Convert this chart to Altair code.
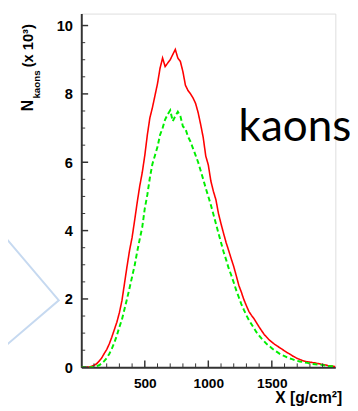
import altair as alt
import pandas as pd

# ---- data ----
x_vals = list(range(0, 2001, 20))

red_vals = [
    0, 0, 0, 0.01, 0.03, 0.06, 0.1, 0.18, 0.27, 0.4,
    0.52, 0.68, 0.88, 1.1, 1.32, 1.6, 1.95, 2.45, 2.95, 3.42,
    3.8, 4.3, 4.82, 5.3, 5.7, 6.2, 6.8, 7.3, 7.6, 7.95,
    8.3, 8.75, 9.05, 8.8, 8.9, 9.0, 9.15, 9.3, 9.05, 8.95,
    8.65, 8.25, 8.1, 8.0, 7.88, 7.72, 7.45, 7.1, 6.72, 6.18,
    5.92, 5.45, 5.15, 4.9, 4.5, 4.2, 3.92, 3.65, 3.42, 3.18,
    2.95, 2.68, 2.4, 2.2, 1.98, 1.8, 1.63, 1.52, 1.42, 1.3,
    1.18, 1.07, 0.96, 0.88, 0.8, 0.74, 0.68, 0.63, 0.58, 0.53,
    0.48, 0.43, 0.39, 0.34, 0.3, 0.26, 0.23, 0.2, 0.18, 0.16,
    0.15, 0.14, 0.13, 0.11, 0.1, 0.08, 0.07, 0.05, 0.04, 0.03,
    0.02]

green_vals = [
    0, 0, 0, 0, 0, 0.01, 0.03, 0.06, 0.11, 0.18,
    0.27, 0.39, 0.54, 0.72, 0.93, 1.18, 1.4, 1.7, 2.0, 2.32,
    2.65, 2.98, 3.38, 3.75, 4.1, 4.65, 5.05, 5.55, 5.95, 6.2,
    6.45, 6.8, 7.0, 7.25, 7.4, 7.52, 7.2, 7.35, 7.48, 7.35,
    7.05, 6.98, 6.75, 6.6, 6.4, 6.2, 6.0, 5.75, 5.5, 5.24,
    5.0, 4.75, 4.48, 4.2, 3.92, 3.65, 3.38, 3.15, 2.9, 2.7,
    2.48, 2.25, 2.05, 1.85, 1.68, 1.52, 1.38, 1.26, 1.14, 1.02,
    0.93, 0.84, 0.76, 0.68, 0.62, 0.56, 0.5, 0.45, 0.4, 0.36,
    0.33, 0.29, 0.26, 0.24, 0.21, 0.19, 0.17, 0.16, 0.14, 0.13,
    0.11, 0.1, 0.09, 0.08, 0.08, 0.07, 0.05, 0.04, 0.03, 0.03,
    0.02]

x_label_vals = [500, 1000, 1500]
y_label_vals = [0, 2, 4, 6, 8, 10]
x_minor = [100, 200, 300, 400, 600, 700, 800, 900, 1100, 1200, 1300, 1400, 1600, 1700, 1800, 1900]
y_minor = [0.5, 1, 1.5, 2.5, 3, 3.5, 4.5, 5, 5.5, 6.5, 7, 7.5, 8.5, 9, 9.5]

# decorative light-blue chevron at the left (in data units)
deco_x = [-700, -177, -700]
deco_y = [4.25, 1.96, 0.3]

W, H = 260, 362
XS = alt.Scale(domain=[0, 2000], nice=False, zero=False)
YS = alt.Scale(domain=[0, 10.35], nice=False, zero=False)

df = pd.DataFrame({
    "X": x_vals * 2,
    "N": red_vals + green_vals,
    "s": ["red"] * len(x_vals) + ["green"] * len(x_vals),
})

lines = alt.Chart(df).mark_line(clip=True, interpolate="linear").encode(
    x=alt.X("X:Q", scale=XS, axis=alt.Axis(
        values=x_label_vals, format="d", ticks=False, grid=False, title=None,
        labelFont="Liberation Sans", labelFontWeight="bold", labelFontSize=14,
        labelColor="black", labelPadding=10, domainColor="#333", domainWidth=2)),
    y=alt.Y("N:Q", scale=YS, axis=alt.Axis(
        values=y_label_vals, format="d", ticks=False, grid=False, title=None,
        labelFont="Liberation Sans", labelFontWeight="bold", labelFontSize=15,
        labelColor="black", labelPadding=9, domainColor="#333", domainWidth=2)),
    color=alt.Color("s:N", scale=alt.Scale(domain=["red", "green"], range=["#ff0000", "#00ee00"]), legend=None),
    strokeDash=alt.StrokeDash("s:N", scale=alt.Scale(domain=["red", "green"], range=[[1, 0], [5, 3]]), legend=None),
    strokeWidth=alt.StrokeWidth("s:N", scale=alt.Scale(domain=["red", "green"], range=[1.6, 2.0]), legend=None),
    order="X:Q",
)

deco = alt.Chart(pd.DataFrame({"X": deco_x, "N": deco_y, "o": [0, 1, 2]})).mark_line(
    clip=False, color="#c6d9f0", strokeWidth=2).encode(
    x=alt.X("X:Q", scale=XS), y=alt.Y("N:Q", scale=YS), order="o:Q")

ymaj = alt.Chart(pd.DataFrame({"v": y_label_vals})).mark_rule(color="#333", strokeWidth=1.5).encode(
    y=alt.Y("v:Q", scale=YS), x=alt.value(0), x2=alt.value(7))
ymin = alt.Chart(pd.DataFrame({"v": y_minor})).mark_rule(color="#333", strokeWidth=1).encode(
    y=alt.Y("v:Q", scale=YS), x=alt.value(0), x2=alt.value(4))
xmaj = alt.Chart(pd.DataFrame({"v": x_label_vals})).mark_rule(color="#333", strokeWidth=1.5).encode(
    x=alt.X("v:Q", scale=XS), y=alt.value(H), y2=alt.value(H - 7))
xmin = alt.Chart(pd.DataFrame({"v": x_minor})).mark_rule(color="#333", strokeWidth=1).encode(
    x=alt.X("v:Q", scale=XS), y=alt.value(H), y2=alt.value(H - 4))


def txt(s, x, y, size, angle=0, align="left", weight="bold", font="Liberation Sans"):
    return alt.Chart(pd.DataFrame({"t": [s]})).mark_text(
        text=s, x=x, y=y, fontSize=size, angle=angle, align=align, baseline="alphabetic",
        fontWeight=weight, font=font, color="black")


ytitle_N = txt("N", -49, 100, 16, angle=270)
ytitle_sub = txt("kaons", -42, 87, 10, angle=270)
ytitle_rest = txt("(x 10³)", -49, 55, 15, angle=270)
xtitle = txt("X [g/cm²]", 267, 399, 16, align="right")
kaons = txt("kaons", 161, 130, 45, weight="normal", font="Lato")

chart = alt.layer(deco, lines, ymin, ymaj, xmin, xmaj, ytitle_N, ytitle_sub, ytitle_rest, xtitle, kaons).properties(
    width=W, height=H,
    autosize=alt.AutoSizeParams(type="none"),
    padding={"left": 75, "top": 1, "right": 15, "bottom": 40},
).configure_view(stroke="#111", strokeWidth=1).configure(background="white")

chart.save("out.html", embed_options={"renderer": "svg", "actions": False})
